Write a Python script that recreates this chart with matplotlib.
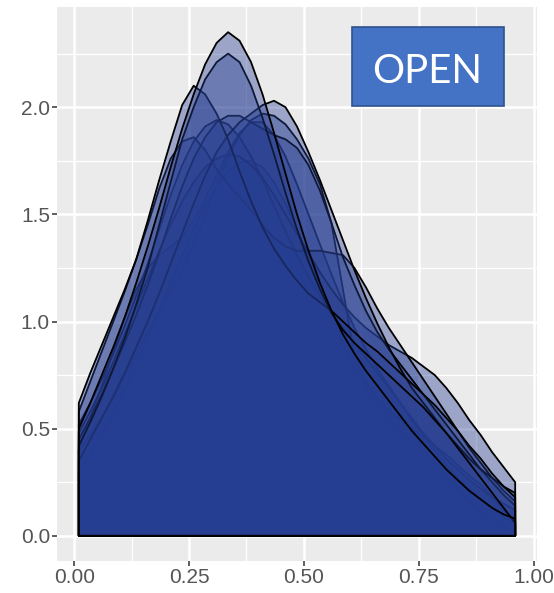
import matplotlib.pyplot as plt
import matplotlib.colors as mcolors
from matplotlib.patches import Rectangle
import numpy as np

X_START, X_END = 0.01, 0.96
x_grid = np.linspace(X_START, X_END, 39)

curve_a = [0.50, 0.62, 0.75, 0.88, 1.02, 1.18, 1.35, 1.53, 1.72, 1.90, 2.06, 2.20, 2.30, 2.35, 2.31, 2.21, 2.06, 1.88, 1.69, 1.50,
           1.33, 1.18, 1.05, 0.94, 0.85, 0.77, 0.70, 0.63, 0.56, 0.49, 0.43, 0.37, 0.31, 0.26, 0.21, 0.17, 0.13, 0.10, 0.08]
curve_b = [0.42, 0.53, 0.65, 0.78, 0.92, 1.08, 1.25, 1.45, 1.65, 1.85, 2.00, 2.13, 2.21, 2.25, 2.21, 2.10, 1.95, 1.78, 1.60, 1.43,
           1.28, 1.15, 1.04, 0.96, 0.90, 0.85, 0.80, 0.75, 0.70, 0.65, 0.60, 0.54, 0.48, 0.41, 0.34, 0.27, 0.20, 0.13, 0.06]
curve_c = [0.62, 0.76, 0.89, 1.02, 1.15, 1.29, 1.47, 1.66, 1.84, 2.01, 2.10, 2.06, 1.97, 1.85, 1.70, 1.56, 1.44, 1.34, 1.26, 1.19,
           1.13, 1.09, 1.05, 1.00, 0.95, 0.90, 0.86, 0.81, 0.76, 0.71, 0.66, 0.61, 0.55, 0.49, 0.42, 0.36, 0.29, 0.23, 0.18]
curve_d = [0.35, 0.45, 0.55, 0.65, 0.76, 0.88, 1.00, 1.13, 1.27, 1.41, 1.55, 1.68, 1.79, 1.87, 1.93, 1.97, 2.01, 2.03, 2.00, 1.91,
           1.79, 1.66, 1.52, 1.38, 1.24, 1.11, 0.99, 0.88, 0.78, 0.69, 0.62, 0.55, 0.48, 0.42, 0.36, 0.31, 0.27, 0.23, 0.20]
curve_e = [0.58, 0.72, 0.86, 1.00, 1.14, 1.29, 1.45, 1.62, 1.76, 1.84, 1.86, 1.80, 1.71, 1.64, 1.58, 1.52, 1.45, 1.39, 1.35, 1.33,
           1.33, 1.33, 1.32, 1.31, 1.25, 1.16, 1.06, 0.97, 0.89, 0.81, 0.73, 0.65, 0.57, 0.49, 0.41, 0.34, 0.27, 0.21, 0.16]
curve_f = [0.45, 0.55, 0.66, 0.78, 0.90, 1.03, 1.17, 1.32, 1.48, 1.63, 1.76, 1.86, 1.93, 1.96, 1.96, 1.93, 1.90, 1.87, 1.85, 1.81,
           1.73, 1.61, 1.46, 1.30, 1.17, 1.05, 0.95, 0.87, 0.80, 0.73, 0.66, 0.59, 0.52, 0.45, 0.38, 0.31, 0.25, 0.19, 0.14]
curve_g = [0.40, 0.55, 0.70, 0.86, 1.02, 1.15, 1.25, 1.31, 1.35, 1.39, 1.47, 1.57, 1.68, 1.79, 1.88, 1.93, 1.93, 1.87, 1.77, 1.64,
           1.50, 1.36, 1.22, 1.09, 0.97, 0.87, 0.78, 0.70, 0.62, 0.54, 0.47, 0.40, 0.33, 0.27, 0.22, 0.17, 0.13, 0.09, 0.05]
curve_h = [0.48, 0.58, 0.69, 0.81, 0.94, 1.07, 1.20, 1.33, 1.45, 1.56, 1.65, 1.72, 1.76, 1.78, 1.77, 1.73, 1.67, 1.59, 1.50, 1.41,
           1.32, 1.23, 1.15, 1.08, 1.02, 0.97, 0.93, 0.89, 0.86, 0.83, 0.79, 0.75, 0.69, 0.62, 0.54, 0.47, 0.39, 0.32, 0.25]
curve_i = [0.40, 0.47, 0.55, 0.64, 0.74, 0.85, 0.95, 1.05, 1.14, 1.24, 1.36, 1.50, 1.64, 1.77, 1.87, 1.94, 1.97, 1.96, 1.92, 1.85,
           1.76, 1.64, 1.46, 1.15, 0.84, 0.72, 0.64, 0.58, 0.54, 0.50, 0.46, 0.42, 0.38, 0.33, 0.28, 0.24, 0.18, 0.12, 0.07]
curve_k = [0.52, 0.62, 0.73, 0.85, 0.98, 1.12, 1.27, 1.43, 1.59, 1.73, 1.84, 1.91, 1.94, 1.92, 1.86, 1.77, 1.66, 1.54, 1.42, 1.31,
           1.21, 1.12, 1.04, 0.97, 0.90, 0.83, 0.76, 0.69, 0.62, 0.55, 0.48, 0.42, 0.36, 0.31, 0.26, 0.22, 0.18, 0.15, 0.12]
curve_l = [0.30, 0.38, 0.47, 0.57, 0.68, 0.80, 0.92, 1.05, 1.18, 1.31, 1.43, 1.54, 1.63, 1.70, 1.74, 1.75, 1.72, 1.65, 1.55, 1.43,
           1.30, 1.16, 1.02, 0.89, 0.78, 0.69, 0.61, 0.55, 0.49, 0.44, 0.40, 0.34, 0.28, 0.22, 0.16, 0.11, 0.07, 0.04, 0.02]

curves = [curve_l, curve_g, curve_i, curve_k, curve_h, curve_e, curve_f, curve_d, curve_c, curve_b, curve_a]

x_ticks = [0.0, 0.25, 0.5, 0.75, 1.0]
x_labels = ['0.00', '0.25', '0.50', '0.75', '1.00']
y_ticks = [0.0, 0.5, 1.0, 1.5, 2.0]
y_labels = ['0.0', '0.5', '1.0', '1.5', '2.0']

FILL = '#263E91'
face = mcolors.to_rgba(FILL, 0.4)

plt.rcParams['font.family'] = ['Liberation Sans', 'DejaVu Sans']

fig = plt.figure(figsize=(5.54, 5.93), dpi=100)
ax = fig.add_axes([57 / 554, 1 - 561 / 593, 480 / 554, 554 / 593])
ax.set_facecolor('#EBEBEB')

for ys in curves:
    px = np.concatenate([[X_START], x_grid, [X_END]])
    py = np.concatenate([[0.0], ys, [0.0]])
    ax.fill(px, py, facecolor=face, edgecolor='black', linewidth=1.3, joinstyle='round')

# ggplot style 5% expansion
x_pad = (X_END - X_START) * 0.05
y_max = max(max(c) for c in curves)
ax.set_xlim(X_START - x_pad, X_END + x_pad)
ax.set_ylim(-y_max * 0.05, y_max * 1.05)

ax.set_xticks(x_ticks)
ax.set_xticklabels(x_labels)
ax.set_yticks(y_ticks)
ax.set_yticklabels(y_labels)
ax.set_xticks([0.125, 0.375, 0.625, 0.875], minor=True)
ax.set_yticks([0.25, 0.75, 1.25, 1.75, 2.25], minor=True)

ax.set_axisbelow(True)
ax.grid(which='major', color='white', linewidth=1.8)
ax.grid(which='minor', color='white', linewidth=0.9)
ax.tick_params(which='major', length=3.6, width=1.1, color='#333333',
               labelcolor='#555555', labelsize=15, pad=1.5)
ax.tick_params(which='minor', length=0)
for s in ax.spines.values():
    s.set_visible(False)

# "OPEN" label box
fig.patches.append(Rectangle((352 / 554, 1 - 106 / 593), 152 / 554, 79 / 593,
                             transform=fig.transFigure, facecolor='#4472C4',
                             edgecolor='#2F528F', linewidth=1.2))
fig.text(427 / 554, 1 - 83 / 593, 'OPEN', color='white', fontsize=29,
         family=['Lato', 'DejaVu Sans'], ha='center', va='baseline')

fig.savefig('out.png', dpi=100)
